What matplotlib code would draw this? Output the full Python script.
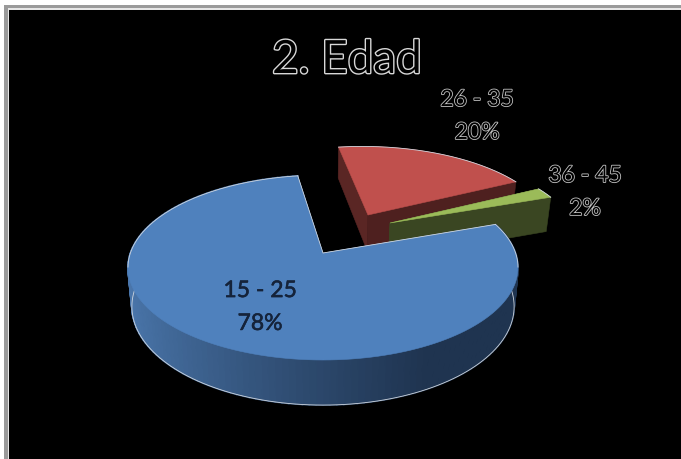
import numpy as np
import matplotlib
matplotlib.use('Agg')
import matplotlib.pyplot as plt
import matplotlib.patheffects as pe
from matplotlib.patches import Polygon, Rectangle
from matplotlib.colors import to_rgb

# Datos del grafico
titulo = '2. Edad'
categorias = ['15 - 25', '26 - 35', '36 - 45']
valores = [78, 20, 2]

# Estilo de cada porcion
colores = ['#4f81bd', '#c0504d', '#9bbb59']
caras = ['#2a4566', '#5a2624', '#424f26']
caras_izq = ['#2a4566', '#4e201f', '#3a4622']
separacion = [(0.0, 0.0), (0.25, 0.451), (0.367, 0.351)]
pos_etiquetas = [(260, 307), (477, 116), (585, 192)]

# Perspectiva del disco, en pixeles de la imagen
cx, cy = 323, 253
a, b, k = 192.6, 90.2, 0.157
prof = 38
escala_base = 0.98
inicio = 70.5


def proyectar(u, v):
    s = 1 / (1 + k * v)
    return cx + a * u * s, cy - b * v * s


def proyectar_base(u, v):
    s = 1 / (1 + k * v)
    return cx + a * u * s * escala_base, cy - b * v * s + prof * s


def mezcla(c1, c2, t):
    c1, c2 = np.array(to_rgb(c1)), np.array(to_rgb(c2))
    return tuple(c1 + (c2 - c1) * t)


fig = plt.figure(figsize=(6.81, 4.59), dpi=100, facecolor='white')
ax = fig.add_axes([0, 0, 1, 1])
ax.set_xlim(0, 681)
ax.set_ylim(459, 0)
ax.axis('off')

# Marco gris de la imagen
ax.add_patch(Rectangle((4, 5), 677, 454, fc='#9a9a9a', ec='none', zorder=0))
ax.add_patch(Rectangle((8, 8), 673, 451, fc='#e6e6e6', ec='none', zorder=0))
ax.add_patch(Rectangle((9, 10), 672, 449, fc='black', ec='none', zorder=0))

# Angulos de cada porcion (horario desde arriba)
fracciones = np.array(valores) / sum(valores) * 360
ang_ini = inicio + np.concatenate(([0], np.cumsum(fracciones)[:-1]))
ang_fin = ang_ini + fracciones

filo = '#cfd6df'

# Se dibuja de atras hacia adelante
for i in [1, 2, 0]:
    du, dv = separacion[i]
    t = np.radians(np.linspace(ang_ini[i], ang_fin[i], 160))
    u = du + np.sin(t)
    v = dv + np.cos(t)
    zi = 2 + [1, 2, 0].index(i) * 2

    if i != 0:
        # Caras de corte, visibles en las porciones separadas
        for j, color in zip([0, -1], [caras[i], caras_izq[i]]):
            p1 = proyectar(du, dv)
            p2 = proyectar(u[j], v[j])
            q2 = proyectar_base(u[j], v[j])
            q1 = proyectar_base(du, dv)
            ax.add_patch(Polygon([p1, p2, q2, q1], fc=color, ec=color, lw=0.4, zorder=zi))
    else:
        # Costado exterior con degradado
        for n in range(len(t) - 1):
            xm, ym = proyectar(u[n], v[n])
            xs, ys = proyectar(u[n + 1], v[n + 1])
            xb, yb = proyectar_base(u[n], v[n])
            xc, yc = proyectar_base(u[n + 1], v[n + 1])
            f = np.clip((xm - 128) / 300, 0, 1)
            color = mezcla('#4a76ab', '#1f3450', f ** 0.8)
            ax.add_patch(Polygon([(xm, ym), (xs, ys), (xc, yc), (xb, yb)],
                                 fc=color, ec=color, lw=1.2, zorder=zi))
        xb, yb = proyectar_base(u, v)
        ax.plot(xb, yb, color=filo, lw=0.6, zorder=zi)

    xs, ys = proyectar(np.r_[du, u], np.r_[dv, v])
    ax.add_patch(Polygon(np.c_[xs, ys], closed=True, fc=colores[i], ec=colores[i], lw=0.4, zorder=zi + 1))

    # Filo claro solo donde la cara superior da contra el fondo
    xa, ya = proyectar(u, v)
    if i == 0:
        ya = np.where(v > -k, ya, np.nan)
        xc1, yc1 = proyectar(np.array([u[0], du, u[-1]]), np.array([v[0], dv, v[-1]]))
        ax.plot(xc1, yc1, color=filo, lw=0.6, zorder=zi + 1)
    ax.plot(xa, ya, color=filo, lw=0.6, zorder=zi + 1)

# Textos
ax.text(347, 60, titulo, family='Lato', fontsize=33, color='black', ha='center', va='center',
        path_effects=[pe.withStroke(linewidth=2.0, foreground='#d8d8d8')], zorder=20)
for i, (x, y) in enumerate(pos_etiquetas):
    texto = f'{categorias[i]}\n{valores[i]}%'
    if i == 0:
        ax.text(x, y, texto, family='Lato', fontsize=16.5, color='#15233a', ha='center', va='center',
                linespacing=1.7, zorder=20,
                path_effects=[pe.withStroke(linewidth=0.4, foreground='#15233a')])
    else:
        ax.text(x, y, texto, family='Lato', fontsize=16.5, color='black', ha='center', va='center',
                linespacing=1.7, path_effects=[pe.withStroke(linewidth=1.2, foreground='#c4c4c4')], zorder=20)

fig.savefig('out.png', dpi=100, facecolor='white')
